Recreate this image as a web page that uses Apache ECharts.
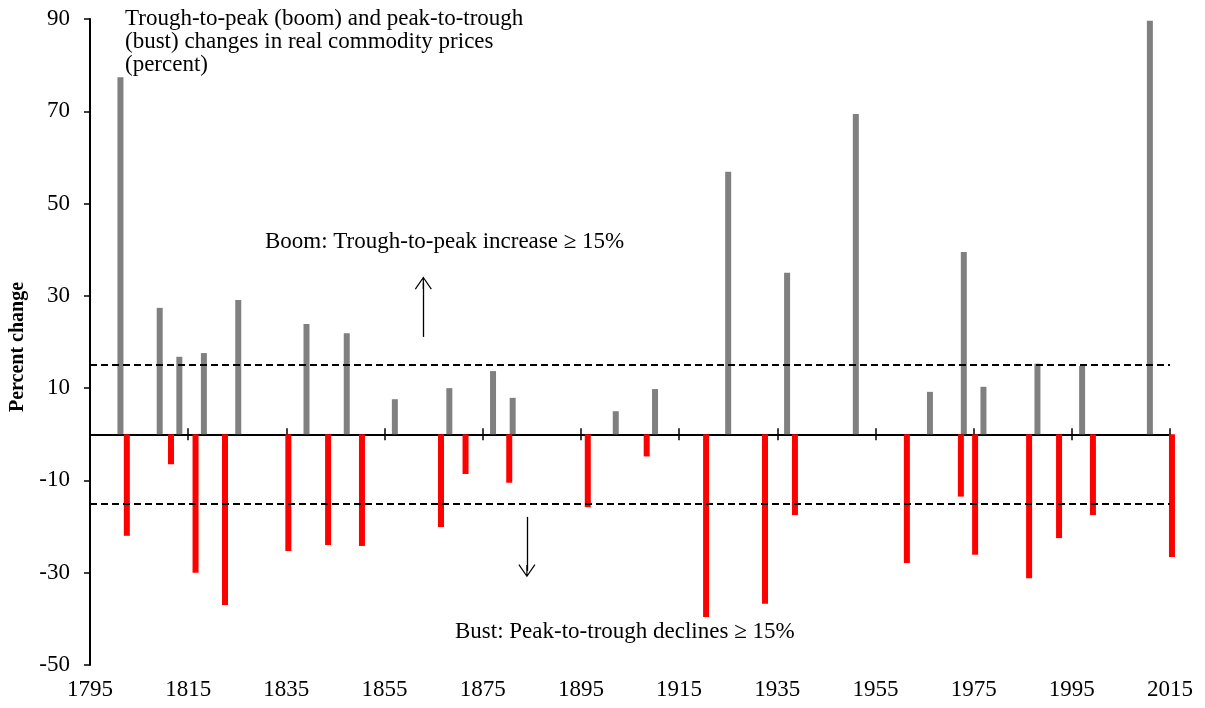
<!DOCTYPE html>
<html>
<head>
<meta charset="utf-8">
<script src="https://cdn.jsdelivr.net/npm/echarts@6/dist/echarts.min.js"></script>
<style>
  html, body { margin: 0; padding: 0; background: #fff; }
  #chart { width: 1205px; height: 708px; }
</style>
</head>
<body>
<div id="chart"></div>
<script>
// booms: trough-to-peak increases (position on the year axis, percent)
const boomYears = [1801.2, 1809.2, 1813.2, 1818.2, 1825.2, 1839.1, 1847.3, 1857.1, 1868.2, 1877.1, 1881.1,
  1902.1, 1910.1, 1925.0, 1937.0, 1951.0, 1966.1, 1973.0, 1977.0, 1988.0, 1997.1, 2010.9];
const boomValues = [77.4, 27.4, 16.8, 17.6, 29.1, 23.9, 21.9, 7.6, 10.0, 13.7, 7.9,
  5.0, 9.8, 56.9, 35.0, 69.4, 9.2, 39.5, 10.3, 15.3, 14.8, 89.6];

// busts: peak-to-trough declines
const bustYears = [1802.5, 1811.5, 1816.5, 1822.5, 1835.4, 1843.5, 1850.4, 1866.5, 1871.5, 1880.4, 1896.4,
  1908.4, 1920.5, 1932.5, 1938.6, 1961.4, 1972.4, 1975.3, 1986.3, 1992.4, 1999.3, 2015.4];
const bustValues = [-22.0, -6.5, -30.0, -37.0, -25.3, -24.0, -24.2, -20.1, -8.6, -10.5, -15.8,
  -4.8, -39.6, -36.7, -17.5, -27.9, -13.5, -26.1, -31.2, -22.5, -17.5, -26.6];

const thresholds = [15, -15];
const boomArrow = [[1862.9, 21.1], [1862.9, 32.8]];
const bustArrow = [[1884.0, -17.9], [1884.0, -29.6]];

const serif = '"Liberation Serif", "Times New Roman", serif';
const fontSize = 23;
const arrowHead = 'path://M0,13 L8.5,0 L17,13 L16,13.8 L8.5,2.2 L1,13.8 Z M7.9,1 L9.1,1 L9.1,13 L7.9,13 Z';

const chart = echarts.init(document.getElementById('chart'));

// the zero line carries ticks on both sides, so two axes sit on it (one per y axis)
const zeroAxis = (inside, yIndex) => ({
  type: 'value',
  min: 1795,
  max: 2015,
  interval: 20,
  position: 'bottom',
  axisLine: { show: true, onZero: true, onZeroAxisIndex: yIndex, lineStyle: { color: '#000', width: 2 } },
  axisTick: { show: true, inside: inside, length: 6, lineStyle: { color: '#000', width: 1.5 } },
  axisLabel: { show: false },
  splitLine: { show: false }
});

const yBase = {
  type: 'value',
  min: -50,
  max: 90,
  interval: 20,
  splitLine: { show: false }
};

const option = {
  animation: false,
  backgroundColor: '#fff',
  grid: { left: 90, right: 35, top: 19, bottom: 43 },
  xAxis: [
    {
      type: 'value',
      min: 1795,
      max: 2015,
      interval: 20,
      position: 'bottom',
      axisLine: { show: false, onZero: false },
      axisTick: { show: false },
      axisLabel: { color: '#000', fontFamily: serif, fontSize: fontSize, margin: 13, formatter: v => String(v) },
      splitLine: { show: false }
    },
    zeroAxis(true, 0),
    zeroAxis(false, 1)
  ],
  yAxis: [
    Object.assign({}, yBase, {
      position: 'left',
      axisLine: { show: true, onZero: false, lineStyle: { color: '#000', width: 2 } },
      axisTick: { show: true, length: 6, lineStyle: { color: '#000', width: 1.5 } },
      axisLabel: { color: '#000', fontFamily: serif, fontSize: fontSize, margin: 20 }
    }),
    Object.assign({}, yBase, {
      position: 'right',
      axisLine: { show: false, onZero: false },
      axisTick: { show: false },
      axisLabel: { show: false }
    })
  ],
  series: [
    {
      name: 'Boom',
      type: 'bar',
      xAxisIndex: 0,
      yAxisIndex: 0,
      barWidth: 6,
      barGap: '-100%',
      clip: false,
      itemStyle: { color: '#808080' },
      data: boomYears.map((y, i) => [y, boomValues[i]]),
      markLine: {
        silent: true,
        symbol: ['none', 'none'],
        label: { show: false },
        lineStyle: { color: '#000', width: 2, type: [7, 4] },
        data: thresholds.map(v => ({ yAxis: v }))
      }
    },
    {
      name: 'Bust',
      type: 'bar',
      xAxisIndex: 0,
      yAxisIndex: 0,
      barWidth: 6,
      barGap: '-100%',
      clip: false,
      itemStyle: { color: '#ff0000' },
      data: bustYears.map((y, i) => [y, bustValues[i]]),
      markLine: {
        silent: true,
        symbol: ['none', arrowHead],
        symbolSize: [17, 13],
        label: { show: false },
        lineStyle: { color: '#000', width: 1.3, type: 'solid' },
        data: [
          [{ coord: boomArrow[0] }, { coord: boomArrow[1] }],
          [{ coord: bustArrow[0] }, { coord: bustArrow[1] }]
        ]
      }
    }
  ],
  graphic: [
    {
      type: 'text',
      left: 125,
      top: 7,
      style: {
        text: 'Trough-to-peak (boom) and peak-to-trough\n(bust) changes in real commodity prices\n(percent)',
        font: fontSize + 'px ' + serif,
        lineHeight: 23,
        fill: '#000'
      }
    },
    {
      type: 'text',
      left: 265,
      top: 230,
      style: { text: 'Boom: Trough-to-peak increase \u2265 15%', font: fontSize + 'px ' + serif, fill: '#000' }
    },
    {
      type: 'text',
      left: 455,
      top: 620,
      style: { text: 'Bust: Peak-to-trough declines \u2265 15%', font: fontSize + 'px ' + serif, fill: '#000' }
    },
    {
      type: 'text',
      x: 18,
      y: 347,
      rotation: Math.PI / 2,
      style: {
        text: 'Percent change',
        font: 'bold 20px ' + serif,
        fill: '#000',
        align: 'center',
        verticalAlign: 'middle'
      }
    }
  ]
};

chart.setOption(option);
</script>
</body>
</html>
